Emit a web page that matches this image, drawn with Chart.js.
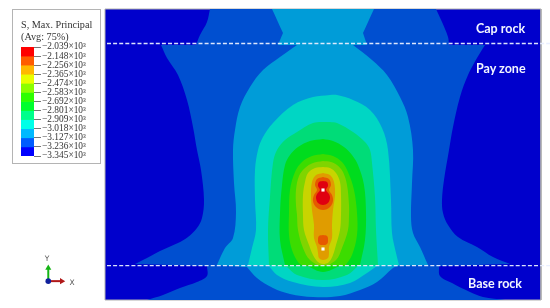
<!DOCTYPE html>
<html>
<head>
<meta charset="utf-8">
<title>S, Max. Principal</title>
<script src="https://cdn.jsdelivr.net/npm/chart.js@4/dist/chart.umd.min.js"></script>
<style>
    html, body { margin: 0; padding: 0; background: #fff; overflow: hidden; }
    #stage { position: relative; width: 550px; height: 308px; }
    #stage canvas { position: absolute; }
    #contourChart { left: 0; top: 0; filter: blur(0.35px); }
    #triadChart { left: 30px; top: 250px; filter: blur(0.3px); }
    #legendBox { position: absolute; left: 12px; top: 9px; width: 87px; height: 153px; border: 1px solid #b4b4b4; }
    #legendChart { left: 0; top: 0; }
    #legendTitle { position: absolute; left: 8px; top: 9px; font: 10.2px/11.5px "Liberation Serif", serif; color: #333; white-space: nowrap; }
    .label { position: absolute; font: bold 12.5px "Lato", sans-serif; color: #f2f5ff; white-space: nowrap; transform: translateY(-50%); }
    .axisName { position: absolute; font: 7.5px "DejaVu Sans", sans-serif; color: #555; transform: translate(-50%, -50%); }
</style>
</head>
<body>
<div id="stage">
    <canvas id="contourChart" width="550" height="308"></canvas>
    <canvas id="triadChart" width="50" height="45"></canvas>
    <div class="label" style="left:476px;top:28px">Cap rock</div>
    <div class="label" style="left:476px;top:68px">Pay zone</div>
    <div class="label" style="left:468px;top:283px">Base rock</div>
    <div class="axisName" style="left:47px;top:258px">Y</div>
    <div class="axisName" style="left:72px;top:282px">X</div>
    <div id="legendBox">
        <canvas id="legendChart" width="87" height="153"></canvas>
        <div id="legendTitle">S, Max. Principal<br>(Avg: 75%)</div>
    </div>
</div>
<script>
// 범례 값 (S, Max. Principal)
const levels = [-2039, -2148, -2256, -2365, -2474, -2583, -2692, -2801, -2909, -3018, -3127, -3236, -3345];
const tickLabels = ['−2.039×10³', '−2.148×10³', '−2.256×10³', '−2.365×10³', '−2.474×10³', '−2.583×10³', '−2.692×10³',
    '−2.801×10³', '−2.909×10³', '−3.018×10³', '−3.127×10³', '−3.236×10³', '−3.345×10³'];
const legendColors = ['#ff0000', '#ff5c00', '#ffb900', '#e8ff00', '#8bff00', '#2eff00', '#00ff2e', '#00ff8b', '#00ffe8', '#00b9ff', '#005cff', '#0000ff'];

// 등고선 밴드 외곽선 [x, y], 같은 점 두 번 = 꺾이는 모서리
const band1 = [[105,9],[541,9],[541,300],[105,300],[105,9]];
const band2 = [[210,9],[207,22],[200,35],[196,45],[196,45],[161,45],[161,45],[167,58],[178,75],[187,100],[193,127],[197,150],[201,170],[204,200],[202,218],[197,228],[188,237],[178,243],[160,251],[147,258],[135,264],[135,264],[207,266],[207,266],[207,276],[197,282],[180,288],[163,295],[147,300],[147,300],[505,300],[505,300],[483,297],[470,292],[452,283],[440,276],[439,266],[439,266],[510,264],[510,264],[493,257],[477,247],[458,237],[448,225],[443,213],[442,200],[444,180],[449,150],[453,127],[460,97],[468,75],[477,58],[485,45],[485,45],[449,45],[449,45],[448,37],[442,22],[436,9],[436,9],[210,9]];
const band3 = [[272,9],[283,33],[283,33],[278,45],[278,45],[297,45],[297,45],[280,57],[263,70],[250,87],[240,107],[235,130],[233,150],[234,183],[236,212],[233,238],[225,248],[217,265],[217,265],[247,267],[247,267],[257,278],[273,288],[290,294],[313,297],[340,296],[360,290],[377,282],[393,268],[398,266],[398,266],[428,265],[428,265],[420,247],[413,233],[411,217],[412,183],[413,150],[408,117],[400,97],[387,75],[372,60],[353,45],[353,45],[367,45],[367,45],[363,33],[363,33],[374,9],[374,9],[272,9]];
const band4 = [[330,95],[313,97],[293,105],[273,123],[263,137],[258,150],[255,170],[255,200],[256,230],[252,248],[248,265],[248,265],[269,266],[269,266],[277,275],[293,282],[323,287],[350,283],[367,273],[377,266],[377,266],[399,265],[399,265],[396,253],[392,233],[391,200],[388,150],[382,128],[370,110],[353,100],[337,95],[330,95]];
const band5 = [[330,122],[313,123],[297,132],[285,140],[277,150],[273,163],[270,197],[268,230],[269,265],[269,265],[287,267],[287,267],[297,275],[323,280],[347,275],[358,266],[358,266],[378,265],[378,265],[376,230],[375,197],[372,163],[370,150],[365,142],[353,132],[337,123],[330,122]];
const band6 = [[323,139],[310,141],[298,147],[290,155],[285,165],[282,185],[280,213],[280,240],[285,265],[285,265],[307,266],[307,266],[323,272],[340,266],[340,266],[360,265],[360,265],[365,240],[366,213],[364,185],[358,165],[352,155],[344,147],[333,141],[323,139]];
const band7 = [[323,154],[312,156],[302,162],[295,172],[290,190],[289,213],[289,235],[292,250],[298,262],[303,266],[303,266],[345,266],[345,266],[352,255],[357,235],[357,213],[354,190],[348,172],[342,162],[333,156],[323,154]];
const band8 = [[323,161],[313,163],[305,168],[299,176],[296,190],[296,205],[297,215],[298,230],[303,248],[310,260],[323,266],[336,260],[342,248],[348,230],[349,215],[349,205],[347,185],[343,172],[337,165],[331,162],[323,161]];
const band9 = [[323,167],[315,168],[308,173],[305,182],[303,195],[303,215],[304,230],[309,245],[313,255],[318,262],[323,264],[329,262],[333,255],[336,245],[340,230],[341,215],[341,195],[340,182],[336,173],[330,168],[323,167]];
const band10 = [[323,173],[316,175],[312,182],[311,195],[312,210],[314,225],[314,238],[317,247],[318,253],[319,258],[323,260],[328,258],[329,253],[329,247],[332,238],[332,225],[333,210],[335,195],[334,182],[330,175],[323,173]];
const band11 = [[323,177],[317,179],[315,185],[317,190],[314,195],[313,201],[316,207],[323,210],[330,207],[333,201],[332,195],[329,190],[331,185],[329,179],[323,177]];
const band11b = [[323,235],[327,236],[328,240],[327,244],[323,245],[319,244],[318,240],[319,236],[323,235]];
const band12 = [[323,181],[327,182],[328,186],[326,190],[329,194],[330,198],[328,203],[323,205],[318,203],[316,198],[317,194],[320,190],[318,186],[319,182],[323,181]];

const contourBands = [band1, band2, band3, band4, band5, band6, band7, band8, band9, band10, band11, band11b, band12];
const bandColors = ['#0000cc', '#004fd0', '#009cd8', '#00d6c4', '#00dc78', '#00dc1e', '#3cdc00', '#80d400', '#c8d400', '#e09c00', '#e65800', '#e65800', '#e00010'];
const bandTension = [0, 0.35, 0.35, 0.35, 0.35, 0.35, 0.35, 0.35, 0.35, 0.35, 0.35, 0.4, 0.35];

// 층 경계, 관측점, 좌표축
const capLine = [[107,43.5],[550,43.5]];
const baseLine = [[107,265.7],[550,265.7]];
const wellPoints = [[323,190],[323,249]];
const triadX = [[47,283],[63,283]];
const triadY = [[47,283],[47,267]];
const triadZ = [[47,283]];

const toPoints = arr => arr.map(p => ({ x: p[0], y: p[1] }));

class ContourPlot {
    constructor() {
        this.renderContours();
        this.renderTriad();
        this.renderLegend();
    }

    buildDatasets() {
        const sets = contourBands.map((band, i) => ({
            data: toPoints(band),
            showLine: true,
            fill: 'shape',
            backgroundColor: bandColors[i],
            borderColor: i === 0 ? '#b0b0b0' : bandColors[i],
            borderWidth: i === 0 ? 1 : 0,
            tension: bandTension[i],
            pointRadius: 0,
            clip: false
        }));

        [capLine, baseLine].forEach(line => sets.push({
            data: toPoints(line),
            showLine: true,
            borderColor: 'rgba(232,238,255,0.95)',
            borderWidth: 1.3,
            borderDash: [4, 2.1],
            pointRadius: 0,
            clip: false
        }));

        sets.push({ data: toPoints(wellPoints), pointStyle: 'rect', pointRadius: 2.2, pointBackgroundColor: '#fff', pointBorderWidth: 0, showLine: false });

        // 앞 배열이 먼저 그려지도록
        sets.forEach((s, i) => { s.order = sets.length - i; });
        return sets;
    }

    renderContours() {
        new Chart(document.getElementById('contourChart'), {
            type: 'scatter',
            data: { datasets: this.buildDatasets() },
            options: {
                responsive: false,
                animation: false,
                layout: { padding: { left: 105, top: 9, right: 9, bottom: 8 } },
                plugins: { legend: { display: false }, tooltip: { enabled: false } },
                scales: {
                    x: { type: 'linear', min: 105, max: 541, display: false },
                    y: { type: 'linear', min: 9, max: 300, reverse: true, display: false }
                }
            }
        });
    }

    renderTriad() {
        new Chart(document.getElementById('triadChart'), {
            type: 'scatter',
            data: {
                datasets: [
                    { data: toPoints(triadZ), order: 1, pointStyle: 'circle', pointRadius: 2.8, pointBackgroundColor: '#10209c', pointBorderWidth: 0 },
                    {
                        data: toPoints(triadX), order: 2, showLine: true, borderColor: '#b01818', borderWidth: 2,
                        pointStyle: 'triangle', pointRadius: [0, 3.5], pointRotation: 90, pointBackgroundColor: '#b01818', pointBorderWidth: 0
                    },
                    {
                        data: toPoints(triadY), order: 3, showLine: true, borderColor: '#14b414', borderWidth: 2,
                        pointStyle: 'triangle', pointRadius: [0, 3.5], pointBackgroundColor: '#14b414', pointBorderWidth: 0
                    }
                ]
            },
            options: {
                responsive: false,
                animation: false,
                layout: { padding: 0 },
                plugins: { legend: { display: false }, tooltip: { enabled: false } },
                scales: {
                    x: { type: 'linear', min: 30, max: 80, display: false },
                    y: { type: 'linear', min: 250, max: 295, reverse: true, display: false }
                }
            }
        });
    }

    renderLegend() {
        new Chart(document.getElementById('legendChart'), {
            type: 'bar',
            data: {
                labels: ['S'],
                datasets: legendColors.map((color, i) => ({
                    data: [[levels[i + 1], levels[i]]],
                    backgroundColor: color,
                    barPercentage: 1,
                    categoryPercentage: 1
                }))
            },
            options: {
                responsive: false,
                animation: false,
                layout: { padding: { left: 8, top: 37, bottom: 7, right: 0 } },
                plugins: { legend: { display: false }, tooltip: { enabled: false } },
                scales: {
                    x: { stacked: true, display: false },
                    y: {
                        position: 'right',
                        min: levels[levels.length - 1],
                        max: levels[0],
                        afterBuildTicks: axis => { axis.ticks = levels.map(v => ({ value: v })); },
                        afterFit: axis => { axis.width = 66; },
                        grid: { drawOnChartArea: false, drawTicks: true, tickLength: 7, tickColor: '#777' },
                        border: { display: false },
                        ticks: {
                            autoSkip: false,
                            padding: 1,
                            color: '#333',
                            font: { family: 'Liberation Serif', size: 9.4 },
                            callback: (value, i) => tickLabels[i]
                        }
                    }
                }
            }
        });
    }
}

new ContourPlot();
</script>
</body>
</html>
